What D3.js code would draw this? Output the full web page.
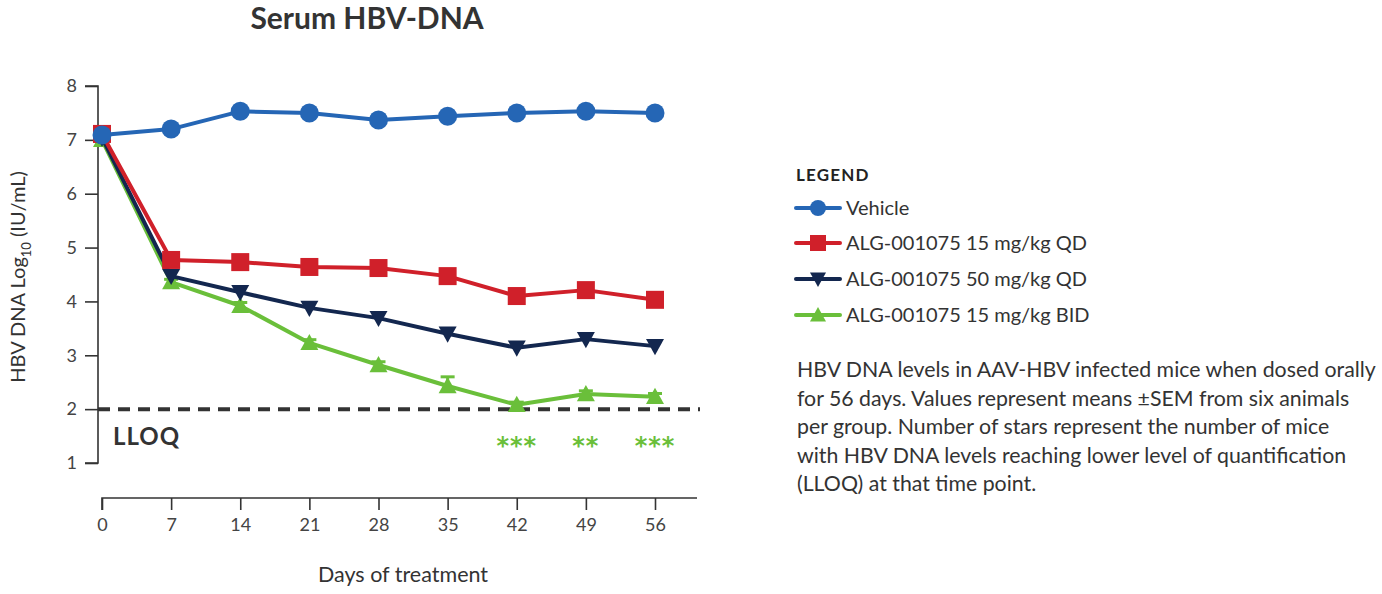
<!DOCTYPE html>
<html><head><meta charset="utf-8">
<script src="https://cdn.jsdelivr.net/npm/d3@7"></script>
<style>body{margin:0;background:#fff;} svg{display:block;font-family:Lato, "Open Sans", sans-serif;}</style>
</head><body><svg id="c" width="1382" height="594"></svg>
<script>
const days = [0, 7, 14, 21, 28, 35, 42, 49, 56];
const yTicks = [1, 2, 3, 4, 5, 6, 7, 8];
const vehicle = [7.09, 7.20, 7.53, 7.50, 7.37, 7.44, 7.50, 7.53, 7.50];
const qd15 = [7.11, 4.77, 4.73, 4.64, 4.62, 4.47, 4.10, 4.21, 4.03];
const qd50 = [7.04, 4.47, 4.17, 3.88, 3.69, 3.40, 3.14, 3.30, 3.17];
const bid15 = [7.00, 4.36, 3.92, 3.23, 2.82, 2.43, 2.08, 2.28, 2.23];
const bid15Sem = [0.05, 0.05, 0.06, 0.06, 0.06, 0.17, 0.05, 0.06, 0.06];
const seriesNames = ["Vehicle", "ALG-001075 15 mg/kg QD", "ALG-001075 50 mg/kg QD", "ALG-001075 15 mg/kg BID"];
const lloq = 2;
const starDays = [42, 49, 56];
const starLabels = ["***", "**", "***"];
const caption = ["HBV DNA levels in AAV-HBV infected mice when dosed orally",
  "for 56 days. Values represent means \u00B1SEM from six animals",
  "per group. Number of stars represent the number of mice",
  "with HBV DNA levels reaching lower level of quantification",
  "(LLOQ) at that time point."];

const colors = ["#2566b5", "#d0202a", "#13274f", "#6abf3a"];
const shapes = ["circle", "square", "down", "up"];
const allSeries = [vehicle, qd15, qd50, bid15];

const svg = d3.select("#c");
const x = d3.scaleLinear().domain([0, 56]).range([102, 655]);
const y = d3.scaleLinear().domain([1, 8]).range([463, 86]);

// title
svg.append("text").attr("x", 367).attr("y", 29).attr("text-anchor", "middle")
  .attr("font-size", 30).attr("font-weight", 700).attr("fill", "#333").text("Serum HBV-DNA");

// y axis
const ya = svg.append("g").attr("transform", "translate(98,0)")
  .call(d3.axisLeft(y).tickValues(yTicks).tickSize(13).tickPadding(8).tickFormat(d3.format("d")));
ya.select(".domain").attr("stroke", "#333").attr("stroke-width", 1.6).attr("d", `M-13,${y(8)}H0V${y(1)}H-13`);
ya.selectAll(".tick line").attr("stroke", "#333").attr("stroke-width", 1.6);
ya.selectAll(".tick text").attr("font-size", 18).attr("fill", "#444").attr("font-family", "Lato, sans-serif");

// x axis
const xa = svg.append("g").attr("transform", "translate(0,498)")
  .call(d3.axisBottom(x).tickValues(days).tickSize(12).tickPadding(8).tickFormat(d3.format("d")));
xa.select(".domain").attr("stroke", "#333").attr("stroke-width", 1.6).attr("d", `M${x(0)},12V0H697`);
xa.selectAll(".tick line").attr("stroke", "#333").attr("stroke-width", 1.6);
xa.selectAll(".tick text").attr("font-size", 18).attr("fill", "#444").attr("font-family", "Lato, sans-serif");

svg.append("text").attr("x", 403).attr("y", 582).attr("text-anchor", "middle")
  .attr("font-size", 21.5).attr("fill", "#333").text("Days of treatment");

// y label
const yl = svg.append("text").attr("transform", "translate(25,277) rotate(-90)")
  .attr("text-anchor", "middle").attr("font-size", 20).attr("fill", "#333");
yl.append("tspan").text("HBV DNA Log");
yl.append("tspan").attr("font-size", 13).attr("dy", 6).text("10");
yl.append("tspan").attr("dy", -6).text(" (IU/mL)");

// LLOQ dashed
svg.append("line").attr("x1", 98).attr("x2", 700).attr("y1", y(lloq)).attr("y2", y(lloq))
  .attr("stroke", "#333").attr("stroke-width", 4).attr("stroke-dasharray", "12,8");
svg.append("text").attr("x", 113).attr("y", 445).attr("font-size", 24).attr("font-weight", 700)
  .attr("letter-spacing", 1).attr("fill", "#333").text("LLOQ");

// stars
starDays.forEach((d, i) => {
  svg.append("text").attr("x", x(d)).attr("y", 454).attr("text-anchor", "middle")
    .attr("font-family", "DejaVu Sans, sans-serif").attr("font-weight", 700)
    .attr("font-size", 24).attr("fill", "#6abf3a").attr("letter-spacing", 1).text(starLabels[i]);
});

function marker(g, shape, color, cx, cy, s) {
  if (shape === "circle") g.append("circle").attr("cx", cx).attr("cy", cy).attr("r", s * 0.5).attr("fill", color);
  else if (shape === "square") g.append("rect").attr("x", cx - s / 2).attr("y", cy - s / 2).attr("width", s).attr("height", s).attr("fill", color);
  else if (shape === "down") g.append("path").attr("d", `M${cx - s / 2},${cy - s * 0.4}L${cx + s / 2},${cy - s * 0.4}L${cx},${cy + s * 0.5}Z`).attr("fill", color);
  else g.append("path").attr("d", `M${cx - s / 2},${cy + s * 0.4}L${cx + s / 2},${cy + s * 0.4}L${cx},${cy - s * 0.5}Z`).attr("fill", color);
}

// error bars for BID (green)
const eb = svg.append("g");
days.forEach((d, i) => {
  const top = y(bid15[i] + bid15Sem[i]);
  eb.append("line").attr("x1", x(d)).attr("x2", x(d)).attr("y1", y(bid15[i])).attr("y2", top)
    .attr("stroke", colors[3]).attr("stroke-width", 3);
  eb.append("line").attr("x1", x(d) - 7).attr("x2", x(d) + 7).attr("y1", top).attr("y2", top)
    .attr("stroke", colors[3]).attr("stroke-width", 3);
});

const line = d3.line().x((v, i) => x(days[i])).y(v => y(v));
const order = [3, 2, 1, 0];
order.forEach(k => {
  const g = svg.append("g");
  g.append("path").datum(allSeries[k]).attr("d", line).attr("fill", "none")
    .attr("stroke", colors[k]).attr("stroke-width", 4).attr("stroke-linejoin", "round");
  allSeries[k].forEach((v, i) => marker(g, shapes[k], colors[k], x(days[i]), y(v), k === 0 ? 19 : 18));
});

// legend
svg.append("text").attr("x", 796).attr("y", 181).attr("font-size", 17).attr("font-weight", 700)
  .attr("fill", "#222").attr("letter-spacing", 1.2).text("LEGEND");
const legY = [208, 243, 279, 315];
seriesNames.forEach((n, k) => {
  const g = svg.append("g");
  g.append("line").attr("x1", 796).attr("x2", 840).attr("y1", legY[k]).attr("y2", legY[k])
    .attr("stroke", colors[k]).attr("stroke-width", 4).attr("stroke-linecap", "round");
  marker(g, shapes[k], colors[k], 818, legY[k], 16);
  g.append("text").attr("x", 846).attr("y", legY[k] + 7).attr("font-size", 20).attr("fill", "#333").text(n);
});

// caption
caption.forEach((t, i) => {
  svg.append("text").attr("x", 797).attr("y", 377 + i * 28.6).attr("font-size", 21.3)
    .attr("fill", "#333").text(t);
});
</script></body></html>
